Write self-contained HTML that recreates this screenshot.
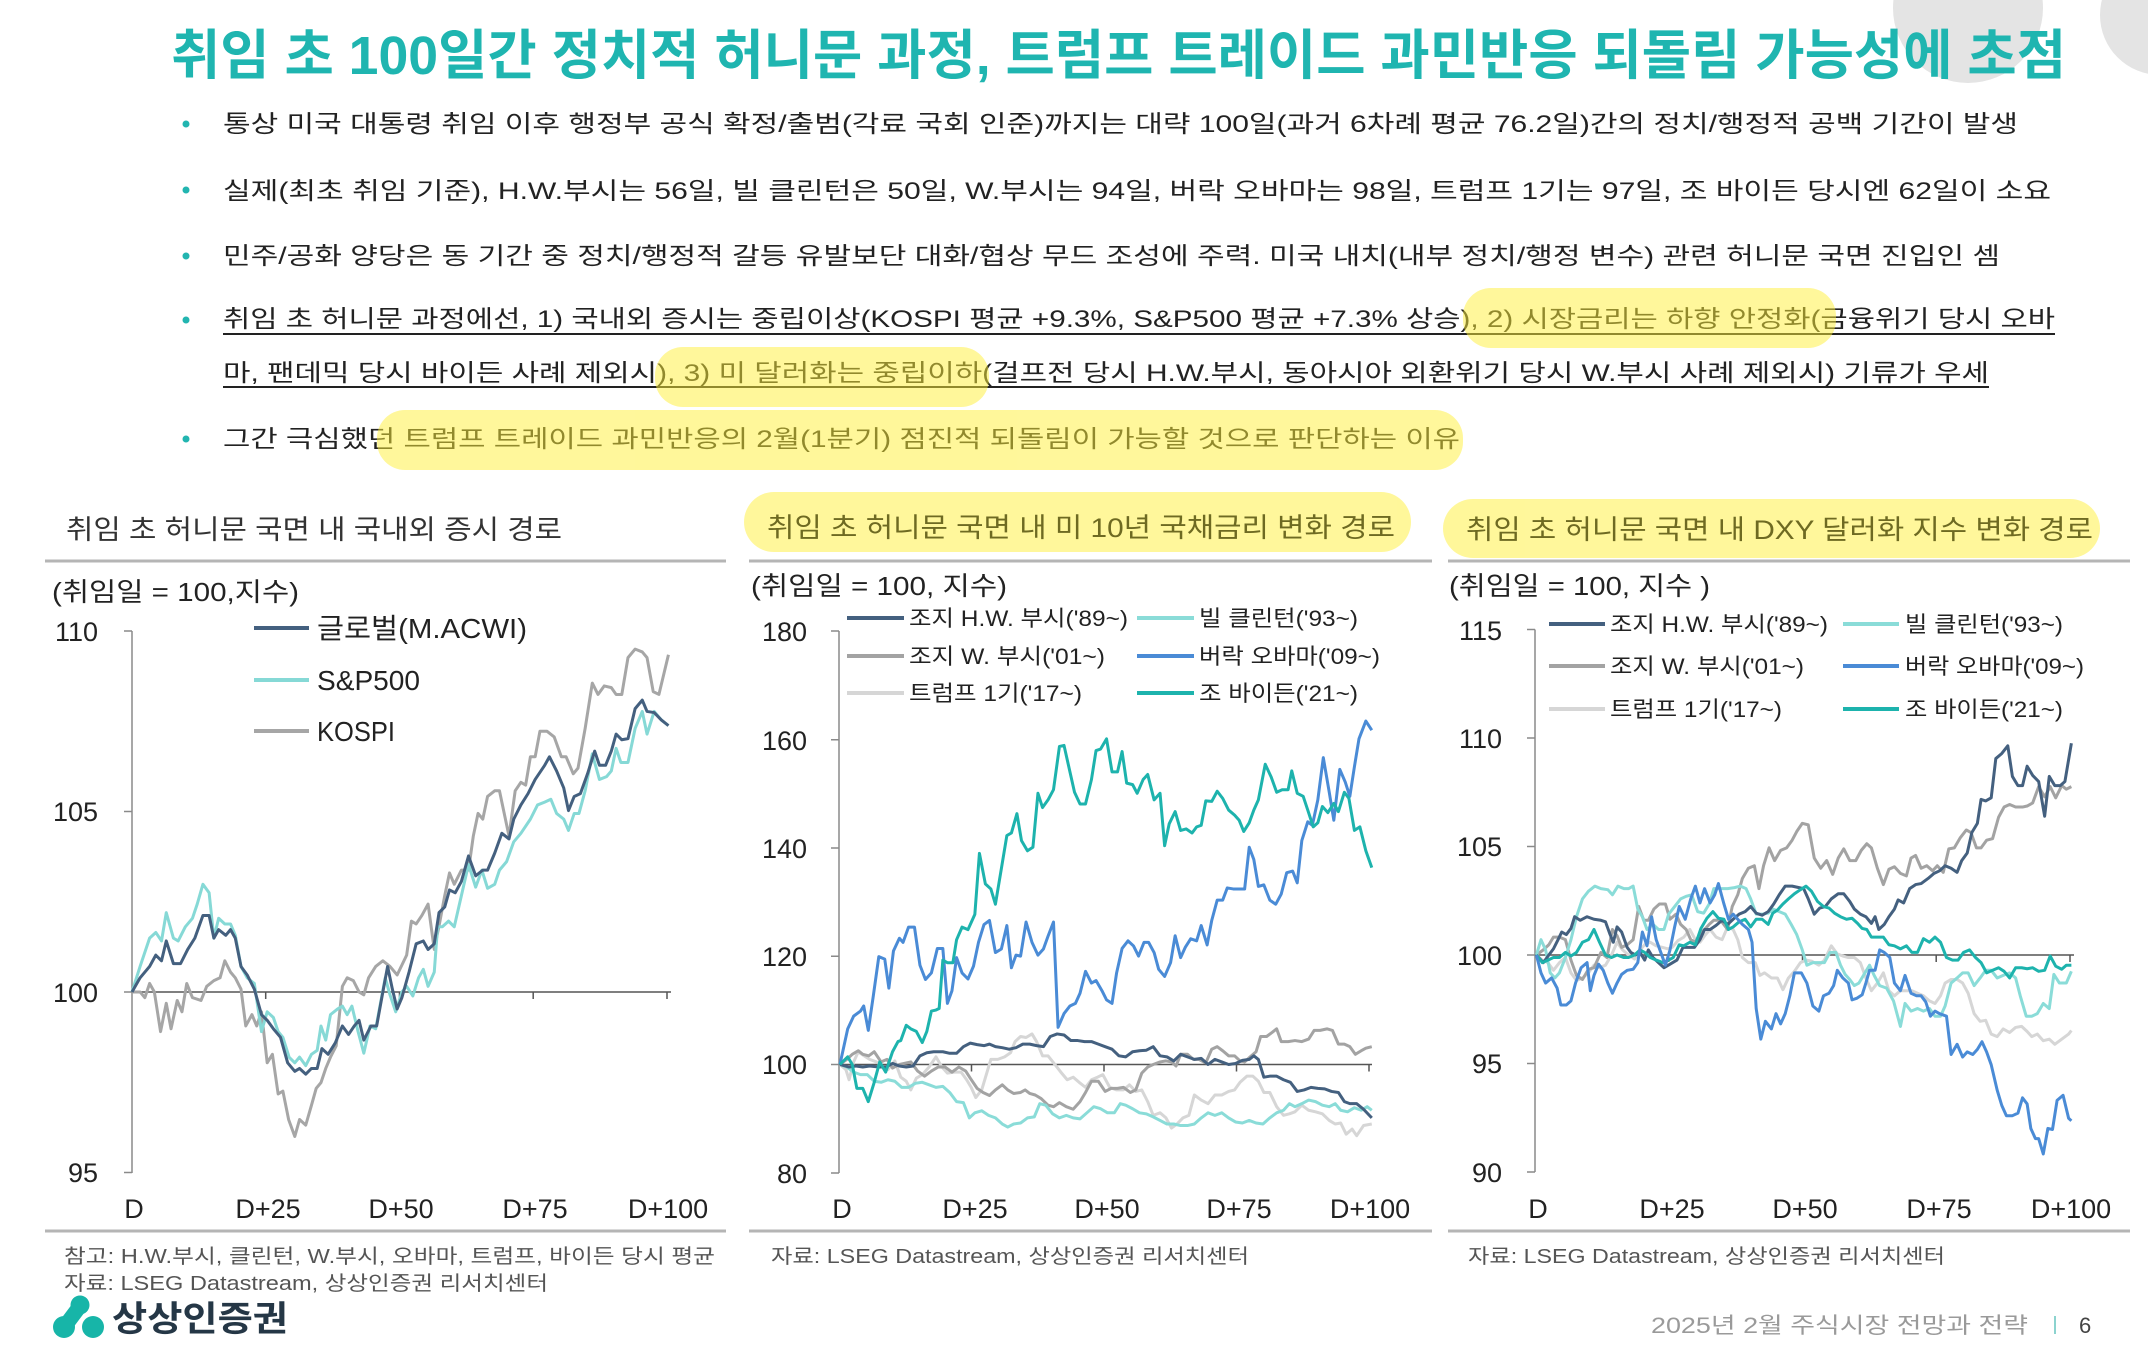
<!DOCTYPE html>
<html><head><meta charset="utf-8"><style>
html,body{margin:0;padding:0;background:#fff;}
svg{display:block;}
text{font-family:"Liberation Sans","Noto Sans CJK KR",sans-serif;}
</style></head><body>
<svg width="2148" height="1368" viewBox="0 0 2148 1368" xmlns="http://www.w3.org/2000/svg">
<rect width="2148" height="1368" fill="#fff"/>
<!-- decorative circles -->
<circle cx="1968" cy="8" r="75" fill="#e4e4e4"/>
<circle cx="2160" cy="15" r="60" fill="#e4e4e4"/>

<!-- title -->
<text x="171" y="74" font-size="54" font-weight="bold" fill="#1fb5b0" textLength="1895" lengthAdjust="spacingAndGlyphs">취임 초 100일간 정치적 허니문 과정, 트럼프 트레이드 과민반응 되돌림 가능성에 초점</text>

<!-- bullets -->
<g fill="#22b5b0">
<circle cx="186" cy="124" r="3.5"/><circle cx="186" cy="190" r="3.5"/><circle cx="186" cy="256" r="3.5"/><circle cx="186" cy="320" r="3.5"/><circle cx="186" cy="439" r="3.5"/>
</g>
<g font-size="24" fill="#222">
<text x="223" y="132" textLength="1795" lengthAdjust="spacingAndGlyphs">통상 미국 대통령 취임 이후 행정부 공식 확정/출범(각료 국회 인준)까지는 대략 100일(과거 6차례 평균 76.2일)간의 정치/행정적 공백 기간이 발생</text>
<text x="223" y="199" textLength="1828" lengthAdjust="spacingAndGlyphs">실제(최초 취임 기준), H.W.부시는 56일, 빌 클린턴은 50일, W.부시는 94일, 버락 오바마는 98일, 트럼프 1기는 97일, 조 바이든 당시엔 62일이 소요</text>
<text x="223" y="264" textLength="1777" lengthAdjust="spacingAndGlyphs">민주/공화 양당은 동 기간 중 정치/행정적 갈등 유발보단 대화/협상 무드 조성에 주력. 미국 내치(내부 정치/행정 변수) 관련 허니문 국면 진입인 셈</text>
<text x="223" y="327" textLength="1832" lengthAdjust="spacingAndGlyphs">취임 초 허니문 과정에선, 1) 국내외 증시는 중립이상(KOSPI 평균 +9.3%, S&amp;P500 평균 +7.3% 상승), 2) 시장금리는 하향 안정화(금융위기 당시 오바</text>
<text x="223" y="381" textLength="1766" lengthAdjust="spacingAndGlyphs">마, 팬데믹 당시 바이든 사례 제외시), 3) 미 달러화는 중립이하(걸프전 당시 H.W.부시, 동아시아 외환위기 당시 W.부시 사례 제외시) 기류가 우세</text>
<text x="223" y="447" textLength="1237" lengthAdjust="spacingAndGlyphs">그간 극심했던 트럼프 트레이드 과민반응의 2월(1분기) 점진적 되돌림이 가능할 것으로 판단하는 이유</text>
</g>
<line x1="223" y1="334" x2="2055" y2="334" stroke="#222" stroke-width="2"/>
<line x1="223" y1="387" x2="1989" y2="387" stroke="#222" stroke-width="2"/>
<g fill="#fff037" opacity="0.5">
<rect x="1463" y="288" width="373" height="60" rx="28"/>
<rect x="655" y="347" width="334" height="60" rx="28"/>
<rect x="377" y="410" width="1086" height="60" rx="28"/>
</g>

<!-- chart titles -->
<g fill="#fff037" opacity="0.5">
<rect x="744" y="492" width="667" height="60" rx="30"/>
<rect x="1443" y="499" width="657" height="59" rx="30"/>
</g>
<g font-size="27">
<text x="66" y="539" fill="#333" textLength="496" lengthAdjust="spacingAndGlyphs">취임 초 허니문 국면 내 국내외 증시 경로</text>
<text x="767" y="537" fill="#6e6a22" textLength="628" lengthAdjust="spacingAndGlyphs">취임 초 허니문 국면 내 미 10년 국채금리 변화 경로</text>
<text x="1466" y="539" fill="#6e6a22" textLength="627" lengthAdjust="spacingAndGlyphs">취임 초 허니문 국면 내 DXY 달러화 지수 변화 경로</text>
</g>
<g stroke="#b5b5b5" stroke-width="3">
<line x1="45" y1="561" x2="726" y2="561"/><line x1="749" y1="561" x2="1432" y2="561"/><line x1="1448" y1="561" x2="2130" y2="561"/>
<line x1="45" y1="1231" x2="726" y2="1231"/><line x1="749" y1="1231" x2="1432" y2="1231"/><line x1="1448" y1="1231" x2="2130" y2="1231"/>
</g>

<!-- unit labels -->
<g font-size="26" fill="#222">
<text x="52" y="601" textLength="247" lengthAdjust="spacingAndGlyphs">(취임일 = 100,지수)</text>
<text x="751" y="595" textLength="256" lengthAdjust="spacingAndGlyphs">(취임일 = 100, 지수)</text>
<text x="1449" y="595" textLength="261" lengthAdjust="spacingAndGlyphs">(취임일 = 100, 지수 )</text>
</g>

<!-- axes -->
<g stroke="#8a8a8a" stroke-width="1.5" fill="none">
<!-- chart1 -->
<line x1="132" y1="631" x2="132" y2="1173"/>
<path d="M124 631H132M124 811.5H132M124 992H132M124 1172.5H132"/>
<!-- chart2 -->
<line x1="839" y1="631" x2="839" y2="1173"/>
<path d="M831 631H839M831 739.7H839M831 848H839M831 956.2H839M831 1064.5H839M831 1173H839"/>
<!-- chart3 -->
<line x1="1535" y1="629.5" x2="1535" y2="1172"/>
<path d="M1527 629.5H1535M1527 738H1535M1527 846.5H1535M1527 955H1535M1527 1063.5H1535M1527 1172H1535"/>
</g>
<g stroke="#555" stroke-width="1.5" fill="none">
<line x1="132" y1="992" x2="671" y2="992"/>
<path d="M265.7 992v7M399.5 992v7M533.2 992v7M667 992v7"/>
<line x1="839" y1="1064.5" x2="1372" y2="1064.5"/>
<path d="M971.5 1064.5v7M1104 1064.5v7M1236.5 1064.5v7M1369 1064.5v7"/>
<line x1="1535" y1="955" x2="2074" y2="955"/>
<path d="M1668.7 955v7M1802.5 955v7M1936.2 955v7M2070 955v7"/>
</g>

<!-- tick labels -->
<g font-size="27" fill="#222" text-anchor="end">
<text x="98" y="641">110</text><text x="98" y="821">105</text><text x="98" y="1002">100</text><text x="98" y="1182">95</text>
<text x="807" y="641">180</text><text x="807" y="750">160</text><text x="807" y="858">140</text><text x="807" y="966">120</text><text x="807" y="1074">100</text><text x="807" y="1183">80</text>
<text x="1502" y="640">115</text><text x="1502" y="748">110</text><text x="1502" y="856">105</text><text x="1502" y="965">100</text><text x="1502" y="1073">95</text><text x="1502" y="1182">90</text>
</g>
<g font-size="27" fill="#222" text-anchor="middle">
<text x="134" y="1218">D</text><text x="268" y="1218">D+25</text><text x="401" y="1218">D+50</text><text x="535" y="1218">D+75</text><text x="668" y="1218">D+100</text>
<text x="842" y="1218">D</text><text x="975" y="1218">D+25</text><text x="1107" y="1218">D+50</text><text x="1239" y="1218">D+75</text><text x="1370" y="1218">D+100</text>
<text x="1538" y="1218">D</text><text x="1672" y="1218">D+25</text><text x="1805" y="1218">D+50</text><text x="1939" y="1218">D+75</text><text x="2071" y="1218">D+100</text>
</g>

<!-- legends -->
<g stroke-width="4">
<line x1="254" y1="628" x2="309" y2="628" stroke="#44607f"/>
<line x1="254" y1="680" x2="309" y2="680" stroke="#86d9d6"/>
<line x1="254" y1="731" x2="309" y2="731" stroke="#a6a6a6"/>
</g>
<g font-size="28" fill="#222">
<text x="317" y="638" textLength="210" lengthAdjust="spacingAndGlyphs">글로벌(M.ACWI)</text>
<text x="317" y="690" textLength="103" lengthAdjust="spacingAndGlyphs">S&amp;P500</text>
<text x="317" y="741" textLength="78" lengthAdjust="spacingAndGlyphs">KOSPI</text>
</g>
<g stroke-width="4">
<line x1="847" y1="618" x2="904" y2="618" stroke="#44607f"/>
<line x1="847" y1="656" x2="904" y2="656" stroke="#a3a3a3"/>
<line x1="847" y1="693" x2="904" y2="693" stroke="#d6d6d6"/>
<line x1="1137" y1="618" x2="1194" y2="618" stroke="#8adcd8"/>
<line x1="1137" y1="656" x2="1194" y2="656" stroke="#4a8bd6"/>
<line x1="1137" y1="693" x2="1194" y2="693" stroke="#1db3ad"/>
<line x1="1549" y1="624" x2="1605" y2="624" stroke="#44607f"/>
<line x1="1549" y1="666" x2="1605" y2="666" stroke="#a3a3a3"/>
<line x1="1549" y1="709" x2="1605" y2="709" stroke="#d6d6d6"/>
<line x1="1843" y1="624" x2="1899" y2="624" stroke="#8adcd8"/>
<line x1="1843" y1="666" x2="1899" y2="666" stroke="#4a8bd6"/>
<line x1="1843" y1="709" x2="1899" y2="709" stroke="#1db3ad"/>
</g>
<g font-size="22" fill="#222">
<text x="909" y="626" textLength="219" lengthAdjust="spacingAndGlyphs">조지 H.W. 부시('89~)</text>
<text x="909" y="664" textLength="196" lengthAdjust="spacingAndGlyphs">조지 W. 부시('01~)</text>
<text x="909" y="701" textLength="173" lengthAdjust="spacingAndGlyphs">트럼프 1기('17~)</text>
<text x="1199" y="626" textLength="159" lengthAdjust="spacingAndGlyphs">빌 클린턴('93~)</text>
<text x="1199" y="664" textLength="181" lengthAdjust="spacingAndGlyphs">버락 오바마('09~)</text>
<text x="1199" y="701" textLength="159" lengthAdjust="spacingAndGlyphs">조 바이든('21~)</text>
<text x="1610" y="632" textLength="218" lengthAdjust="spacingAndGlyphs">조지 H.W. 부시('89~)</text>
<text x="1610" y="674" textLength="194" lengthAdjust="spacingAndGlyphs">조지 W. 부시('01~)</text>
<text x="1610" y="717" textLength="172" lengthAdjust="spacingAndGlyphs">트럼프 1기('17~)</text>
<text x="1905" y="632" textLength="158" lengthAdjust="spacingAndGlyphs">빌 클린턴('93~)</text>
<text x="1905" y="674" textLength="179" lengthAdjust="spacingAndGlyphs">버락 오바마('09~)</text>
<text x="1905" y="717" textLength="158" lengthAdjust="spacingAndGlyphs">조 바이든('21~)</text>
</g>

<!-- chart 1 series -->
<g transform="matrix(0.476,0,0,0.5667,-2.71,479.1)" fill="none" stroke-width="3" stroke-linejoin="round">
<polyline vector-effect="non-scaling-stroke" stroke="#a6a6a6" points="283,905 300,905 310,915 320,890 330,905 343,975 355,925 365,970 378,920 388,940 398,890 410,915 428,920 440,895 455,885 468,880 478,850 490,870 500,880 512,900 522,965 535,945 545,965 555,940 567,1030 578,1015 590,1085 600,1080 612,1130 625,1160 635,1130 648,1140 660,1105 670,1075 680,1065 690,1040 700,1020 712,1000 725,895 735,880 748,885 760,905 770,910 780,880 795,860 810,850 825,860 840,875 860,840 870,780 880,785 892,770 905,750 918,830 930,780 940,735 950,695 960,715 975,690 990,690 1000,630 1010,590 1020,600 1030,560 1045,550 1055,550 1065,590 1075,630 1088,550 1100,535 1110,540 1120,490 1130,490 1140,445 1155,445 1170,455 1185,490 1195,490 1210,520 1220,510 1235,440 1250,360 1262,380 1275,365 1290,368 1300,380 1312,380 1325,315 1340,300 1355,305 1365,315 1378,375 1390,380 1410,310"/>
<polyline vector-effect="non-scaling-stroke" stroke="#86d9d6" points="283,905 300,860 320,810 333,800 345,815 355,765 370,810 380,815 395,790 410,775 420,750 432,715 445,730 455,810 465,775 478,785 490,785 500,805 512,860 525,880 540,890 555,975 567,940 580,950 590,975 600,985 613,1020 625,1030 635,1020 648,1035 660,1015 672,1008 680,965 690,990 700,945 715,935 725,930 735,945 745,930 758,975 770,1013 783,965 795,970 805,925 815,880 825,910 837,940 850,905 860,895 873,912 885,880 895,865 905,895 918,870 925,790 935,790 948,780 960,790 975,735 990,680 1005,720 1018,690 1030,722 1045,715 1055,690 1070,675 1085,640 1100,625 1120,600 1135,575 1150,570 1163,565 1175,590 1190,600 1200,620 1212,590 1222,590 1235,550 1250,485 1265,530 1280,525 1290,515 1300,475 1310,500 1325,500 1340,440 1355,410 1365,450 1380,410 1395,425 1410,435"/>
<polyline vector-effect="non-scaling-stroke" stroke="#44607f" points="283,905 300,880 320,860 333,840 345,850 355,815 370,855 385,855 400,830 415,810 432,770 445,770 455,810 465,795 480,805 490,795 500,810 512,860 525,875 540,900 555,945 567,955 580,970 595,985 610,1030 625,1045 635,1040 648,1050 660,1040 672,1040 682,1005 695,1015 710,995 725,965 738,980 750,965 760,955 770,990 785,965 797,965 810,905 820,860 830,900 840,935 850,915 865,870 880,820 895,815 905,830 918,820 928,765 940,755 950,725 962,730 975,710 990,665 1005,700 1020,690 1030,690 1045,660 1060,625 1075,635 1085,600 1100,575 1115,555 1130,530 1150,505 1160,490 1175,515 1190,545 1200,585 1212,560 1225,555 1240,520 1255,480 1265,505 1278,505 1290,480 1300,450 1312,460 1325,458 1340,405 1355,390 1365,410 1380,412 1395,425 1410,435"/>
</g>

<!-- chart 2 series -->
<g transform="matrix(0.4573,0,0,0.5088,727.9,481.9)" fill="none" stroke-width="3" stroke-linejoin="round">
<polyline vector-effect="non-scaling-stroke" stroke="#d6d6d6" points="245,1145 258,1155 265,1175 275,1140 285,1120 298,1128 310,1135 325,1140 340,1150 350,1155 365,1138 378,1170 390,1178 400,1195 412,1172 425,1165 440,1150 455,1130 468,1150 480,1162 495,1160 510,1160 522,1175 532,1190 542,1210 555,1195 565,1165 575,1135 590,1135 605,1130 618,1122 628,1100 640,1090 652,1092 665,1085 675,1100 688,1128 700,1128 715,1145 728,1160 742,1175 755,1170 768,1180 782,1190 795,1175 808,1170 820,1165 835,1190 850,1195 865,1195 878,1185 892,1198 905,1195 918,1218 930,1245 945,1240 958,1250 970,1270 982,1262 995,1250 1008,1245 1020,1205 1035,1215 1050,1222 1065,1205 1080,1205 1095,1198 1108,1195 1120,1180 1135,1168 1148,1168 1160,1178 1172,1200 1185,1200 1200,1228 1215,1245 1228,1242 1240,1238 1255,1225 1270,1235 1285,1238 1300,1242 1315,1255 1328,1262 1340,1260 1352,1282 1365,1272 1375,1285 1390,1265 1408,1262"/>
<polyline vector-effect="non-scaling-stroke" stroke="#a3a3a3" points="245,1145 260,1135 272,1125 285,1118 295,1125 308,1128 320,1120 335,1140 348,1135 360,1152 375,1145 390,1142 400,1140 415,1158 430,1168 445,1158 460,1150 475,1150 490,1160 505,1150 520,1158 530,1172 545,1192 558,1200 572,1206 585,1195 600,1185 612,1195 625,1202 640,1200 650,1195 660,1202 672,1205 685,1212 700,1225 712,1228 725,1220 740,1228 755,1233 770,1218 782,1200 795,1178 810,1178 825,1198 838,1192 852,1192 865,1190 880,1200 892,1195 905,1162 918,1150 930,1145 945,1140 958,1138 970,1140 980,1148 990,1125 1005,1125 1018,1135 1030,1135 1045,1142 1058,1115 1070,1110 1082,1118 1095,1128 1108,1128 1120,1138 1130,1140 1142,1130 1155,1120 1165,1090 1178,1090 1190,1082 1200,1075 1210,1100 1225,1100 1240,1098 1255,1100 1270,1095 1282,1078 1295,1078 1310,1075 1322,1078 1335,1105 1348,1105 1360,1110 1372,1125 1385,1118 1395,1113 1408,1110"/>
<polyline vector-effect="non-scaling-stroke" stroke="#8adcd8" points="245,1145 260,1150 275,1160 290,1165 305,1165 320,1178 335,1180 350,1175 365,1178 380,1190 395,1190 410,1182 425,1180 440,1185 455,1190 470,1188 485,1200 500,1218 515,1220 528,1250 540,1240 555,1236 570,1245 585,1250 600,1262 612,1268 625,1262 640,1260 655,1250 670,1248 682,1222 695,1225 710,1242 725,1250 740,1245 755,1250 770,1252 785,1240 800,1228 815,1232 830,1240 845,1240 858,1222 870,1225 885,1232 900,1240 915,1242 930,1248 945,1255 960,1262 975,1262 990,1265 1005,1265 1020,1262 1035,1250 1050,1240 1065,1245 1080,1240 1095,1250 1110,1258 1125,1260 1140,1255 1155,1260 1170,1262 1185,1250 1200,1240 1215,1235 1228,1222 1240,1228 1255,1222 1270,1215 1285,1218 1300,1225 1315,1228 1328,1222 1340,1235 1355,1238 1370,1230 1385,1235 1398,1228 1408,1235"/>
<polyline vector-effect="non-scaling-stroke" stroke="#44607f" points="245,1145 265,1150 280,1148 295,1150 310,1148 330,1150 345,1150 360,1143 375,1148 390,1150 405,1148 420,1128 435,1122 450,1120 470,1120 485,1123 500,1123 515,1110 530,1103 545,1106 560,1108 572,1105 585,1110 600,1112 615,1115 630,1112 645,1105 660,1105 675,1108 690,1110 705,1090 720,1085 735,1087 750,1098 765,1098 780,1100 795,1100 810,1105 825,1110 840,1115 855,1128 870,1130 885,1120 900,1118 915,1117 930,1110 945,1128 960,1130 975,1138 990,1125 1005,1130 1020,1135 1035,1133 1050,1145 1065,1135 1080,1140 1095,1145 1110,1143 1125,1137 1140,1135 1150,1128 1160,1135 1172,1170 1185,1168 1200,1168 1215,1175 1230,1180 1245,1198 1260,1195 1275,1190 1290,1192 1305,1193 1320,1198 1335,1200 1348,1218 1360,1222 1375,1222 1390,1233 1408,1250"/>
<polyline vector-effect="non-scaling-stroke" stroke="#4a8bd6" points="245,1145 262,1075 275,1050 290,1040 297,1030 307,1078 318,1010 330,933 343,938 352,995 362,922 375,897 383,905 395,875 408,875 420,950 432,978 445,965 458,917 470,917 480,1025 490,1000 500,935 512,965 525,977 537,952 548,905 560,870 572,862 585,925 598,918 610,872 620,955 630,930 640,932 652,865 665,905 678,930 690,918 700,893 712,865 722,1072 735,1045 748,1030 760,1025 770,1005 782,962 795,985 805,980 818,1000 828,1018 840,1025 850,965 862,917 875,902 887,912 898,932 910,905 920,905 932,925 942,958 955,972 968,945 978,892 990,935 1000,915 1012,898 1025,902 1035,872 1048,910 1058,862 1070,822 1082,822 1092,798 1105,800 1118,800 1130,800 1140,718 1150,742 1160,795 1172,792 1185,822 1198,830 1210,810 1222,768 1235,765 1245,788 1255,705 1268,668 1278,675 1290,625 1302,542 1315,610 1325,665 1338,565 1350,590 1360,618 1370,560 1380,505 1395,470 1408,488"/>
<polyline vector-effect="non-scaling-stroke" stroke="#1db3ad" points="245,1145 262,1130 272,1145 282,1192 295,1192 307,1218 320,1180 332,1140 345,1160 360,1120 372,1100 378,1098 390,1068 400,1075 412,1080 425,1102 435,1080 445,1040 455,1038 462,1035 470,940 480,945 492,945 500,900 512,875 525,880 540,850 550,730 563,790 575,800 585,830 598,760 610,695 620,690 632,652 642,705 655,725 667,718 678,612 688,640 700,625 712,605 725,520 735,518 748,570 758,610 770,633 782,633 795,585 805,528 815,525 828,505 840,570 852,570 862,530 872,592 885,595 895,612 908,585 918,575 932,625 945,612 955,715 965,672 978,648 990,685 1002,682 1015,690 1025,678 1035,675 1045,627 1058,628 1070,608 1082,622 1095,645 1108,655 1118,665 1128,687 1140,670 1150,645 1160,625 1175,555 1188,580 1200,610 1212,605 1225,605 1233,568 1245,612 1258,618 1268,645 1280,678 1290,670 1300,638 1312,650 1325,632 1335,648 1348,610 1358,622 1370,685 1382,678 1395,725 1408,758"/>
</g>

<!-- chart 3 series -->
<g transform="matrix(0.4608,0,0,0.5102,1428.1,480.5)" fill="none" stroke-width="3" stroke-linejoin="round">
<polyline vector-effect="non-scaling-stroke" stroke="#d6d6d6" points="235,930 248,940 260,945 272,960 285,945 298,935 310,965 322,980 335,975 348,965 360,950 372,955 385,950 398,930 410,905 422,920 435,930 448,938 460,920 470,910 482,905 495,912 508,915 520,918 530,915 542,902 555,895 568,880 580,900 590,905 602,890 612,880 625,895 638,900 650,875 662,880 672,900 682,935 695,945 710,945 720,970 730,965 745,975 758,975 770,998 782,975 795,962 808,945 820,940 832,942 848,950 860,940 875,912 888,928 900,932 912,935 925,935 938,945 950,975 962,1000 975,985 988,965 1000,1000 1012,1010 1025,1000 1038,1000 1050,1000 1062,1005 1075,1010 1088,1020 1100,1025 1112,1010 1122,985 1135,978 1148,978 1160,985 1172,1005 1185,1045 1198,1060 1210,1058 1222,1085 1235,1090 1248,1075 1262,1082 1275,1072 1288,1070 1300,1080 1310,1090 1322,1085 1335,1098 1348,1095 1360,1105 1375,1095 1390,1085 1396,1078"/>
<polyline vector-effect="non-scaling-stroke" stroke="#a3a3a3" points="235,930 250,920 262,910 272,895 285,895 298,900 310,940 322,970 335,978 348,958 360,955 375,925 388,935 400,880 410,892 420,915 432,910 445,900 457,835 468,862 478,862 490,840 502,830 515,830 525,860 538,850 548,870 560,880 570,900 580,905 590,888 600,880 610,870 620,862 635,862 650,880 660,835 672,812 682,780 695,760 708,755 718,800 728,755 740,720 752,745 765,725 778,720 790,705 800,688 812,672 825,675 838,740 852,760 865,745 878,772 890,740 902,722 915,745 928,745 940,725 952,712 962,720 975,760 988,792 1000,762 1012,757 1025,770 1038,775 1048,740 1058,735 1070,760 1082,755 1095,765 1105,755 1118,768 1130,722 1142,720 1155,700 1168,685 1178,690 1190,720 1200,720 1212,705 1225,702 1238,660 1250,640 1262,635 1275,640 1290,640 1300,638 1312,632 1325,600 1338,620 1350,600 1362,622 1375,598 1385,605 1396,600"/>
<polyline vector-effect="non-scaling-stroke" stroke="#8adcd8" points="235,930 245,900 255,920 265,965 275,975 285,965 298,935 310,900 322,855 335,820 348,805 362,795 375,800 390,802 400,812 412,795 425,800 435,800 445,795 455,840 465,855 475,880 488,870 500,880 512,880 522,850 535,835 548,820 560,815 572,812 585,845 598,848 610,830 620,800 635,800 650,800 665,798 678,795 690,800 700,820 712,850 725,850 738,848 748,840 762,845 775,850 788,870 800,890 812,920 822,950 835,945 848,945 860,945 872,925 885,925 895,950 905,968 915,978 925,990 935,985 948,965 958,950 968,970 980,990 995,995 1010,1020 1025,1070 1035,1025 1048,1040 1062,1035 1075,1040 1088,1035 1100,1050 1112,1050 1122,1030 1135,985 1148,975 1160,965 1172,965 1185,990 1198,975 1210,960 1222,960 1235,975 1248,970 1262,965 1275,975 1285,1010 1298,1050 1310,1050 1322,1045 1335,1025 1348,1035 1358,968 1370,985 1385,985 1396,962"/>
<polyline vector-effect="non-scaling-stroke" stroke="#44607f" points="235,930 250,945 262,930 272,918 282,900 290,885 300,890 310,878 318,855 330,862 345,855 360,860 375,862 385,865 395,890 402,905 410,875 420,885 432,915 440,925 450,930 460,925 470,940 478,920 488,935 500,945 512,955 525,948 540,940 553,915 565,915 578,915 590,900 600,880 612,880 625,872 638,862 650,870 662,860 675,850 688,845 700,835 712,848 725,852 738,845 750,830 762,812 775,795 790,795 805,798 815,800 825,820 838,850 850,838 862,835 875,820 890,810 902,810 915,825 925,840 938,850 950,855 962,868 970,855 978,880 990,870 1000,855 1012,840 1020,822 1032,828 1045,800 1058,792 1070,790 1085,780 1098,770 1110,765 1122,755 1135,760 1148,768 1158,745 1170,730 1180,690 1192,672 1200,625 1210,628 1222,622 1232,545 1245,535 1258,520 1268,580 1280,598 1290,598 1300,560 1312,578 1325,590 1338,658 1348,580 1360,598 1372,598 1382,590 1396,515"/>
<polyline vector-effect="non-scaling-stroke" stroke="#1db3ad" points="235,930 248,945 260,940 272,935 285,935 298,925 310,932 322,925 335,905 348,900 360,880 372,905 385,930 398,935 410,930 425,935 435,935 448,930 460,920 470,925 482,935 495,940 510,945 522,940 532,935 545,910 555,912 568,905 580,910 592,878 605,858 618,845 630,858 642,860 652,880 662,875 675,865 688,860 700,875 712,860 725,860 738,870 748,848 758,842 770,830 782,820 795,810 808,802 820,795 832,805 845,825 858,835 870,838 882,848 895,855 908,860 920,858 932,868 942,878 952,880 962,895 975,895 988,895 1000,910 1012,912 1025,918 1038,912 1050,925 1062,925 1075,898 1088,905 1100,895 1112,905 1125,935 1138,940 1150,940 1162,925 1175,920 1188,935 1200,945 1212,965 1225,960 1238,955 1250,962 1262,975 1275,955 1288,955 1300,957 1312,955 1325,962 1338,960 1350,932 1362,952 1375,958 1385,950 1396,950"/>
<polyline vector-effect="non-scaling-stroke" stroke="#4a8bd6" points="235,930 245,965 255,985 268,975 280,995 288,1028 300,1028 310,1020 320,985 332,955 345,945 352,1000 360,970 370,948 380,960 390,985 400,1005 410,985 420,968 432,960 445,958 455,945 465,885 475,912 485,855 495,900 505,925 515,950 525,920 535,875 545,835 558,860 570,820 580,795 590,828 600,800 612,828 622,812 630,790 642,830 652,860 662,850 672,860 682,870 695,880 703,905 712,1035 722,1095 732,1060 745,1075 755,1045 765,1065 775,1045 785,1010 795,965 810,965 822,985 835,1030 848,1040 858,1010 870,1005 880,990 888,960 900,975 912,985 920,1018 930,1015 942,1008 950,985 958,960 970,960 980,920 990,925 1002,935 1012,985 1025,1000 1035,970 1048,1005 1060,1010 1070,1010 1080,1022 1090,1050 1100,1040 1110,1045 1125,1050 1135,1125 1148,1105 1160,1130 1170,1120 1182,1125 1192,1115 1202,1100 1212,1120 1222,1145 1235,1195 1245,1225 1255,1245 1268,1245 1280,1240 1290,1210 1300,1222 1308,1270 1318,1290 1325,1290 1335,1320 1345,1270 1355,1272 1365,1215 1378,1205 1390,1250 1396,1255"/>
</g>

<!-- footnotes -->
<g font-size="20" fill="#555">
<text x="64" y="1263" textLength="651" lengthAdjust="spacingAndGlyphs">참고: H.W.부시, 클린턴, W.부시, 오바마, 트럼프, 바이든 당시 평균</text>
<text x="64" y="1290" textLength="484" lengthAdjust="spacingAndGlyphs">자료: LSEG Datastream, 상상인증권 리서치센터</text>
<text x="771" y="1263" textLength="478" lengthAdjust="spacingAndGlyphs">자료: LSEG Datastream, 상상인증권 리서치센터</text>
<text x="1468" y="1263" textLength="477" lengthAdjust="spacingAndGlyphs">자료: LSEG Datastream, 상상인증권 리서치센터</text>
</g>

<!-- logo -->
<g fill="#17b5a8">
<line x1="80" y1="1306" x2="65" y2="1326" stroke="#17b5a8" stroke-width="15" stroke-linecap="round"/>
<circle cx="80" cy="1305" r="9.5"/>
<circle cx="64" cy="1327" r="11"/>
<circle cx="93" cy="1327" r="11"/>
</g>
<text x="112" y="1331" font-size="35" font-weight="bold" fill="#253746" textLength="176" lengthAdjust="spacingAndGlyphs">상상인증권</text>

<!-- page footer -->
<text x="1651" y="1333" font-size="22" fill="#9a9a9a" textLength="377" lengthAdjust="spacingAndGlyphs">2025년 2월 주식시장 전망과 전략</text>
<line x1="2055" y1="1316" x2="2055" y2="1334" stroke="#8cd3cf" stroke-width="2"/>
<text x="2079" y="1333" font-size="22" fill="#444">6</text>
</svg>
</body></html>
